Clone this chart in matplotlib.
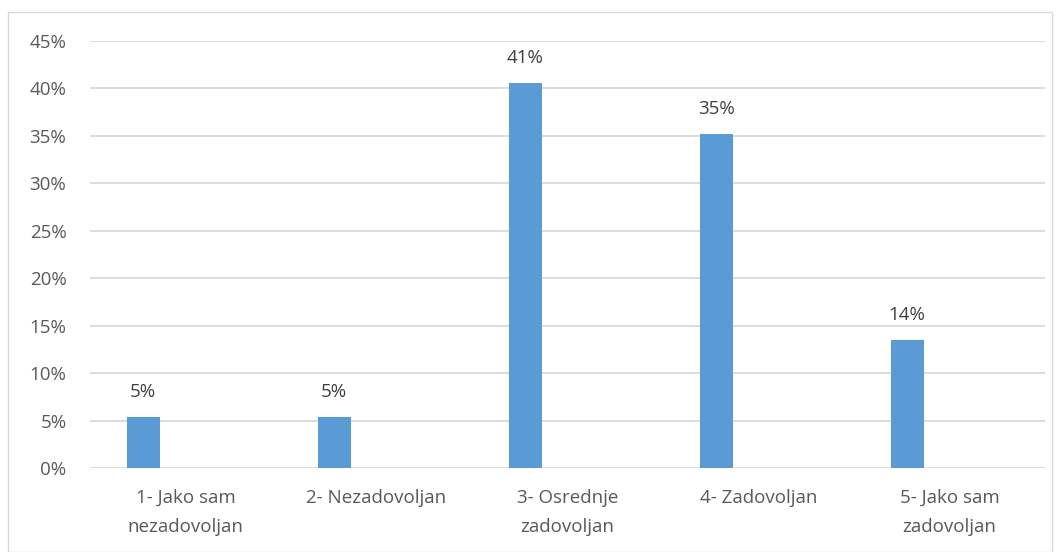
import matplotlib.pyplot as plt
from matplotlib.patches import Rectangle
import numpy as np

categories = ['1- Jako sam\nnezadovoljan', '2- Nezadovoljan', '3- Osrednje\nzadovoljan',
              '4- Zadovoljan', '5- Jako sam\nzadovoljan']
values = [0.054, 0.054, 0.406, 0.352, 0.135]
labels = ['5%', '5%', '41%', '35%', '14%']
yticks = [0, 0.05, 0.10, 0.15, 0.20, 0.25, 0.30, 0.35, 0.40, 0.45]

plt.rcParams['font.family'] = ['Open Sans', 'DejaVu Sans']
txt = '#595959'

fig = plt.figure(figsize=(10.6, 5.52), dpi=100)
ax = fig.add_axes([90 / 1060, 1 - 468 / 552, 955 / 1060, 427 / 552])

# chart border
fig.patches.append(Rectangle((8 / 1060, 0.5 / 552), 1044 / 1060, 540 / 552,
                             transform=fig.transFigure, fill=False,
                             edgecolor='#d9d9d9', linewidth=1))

x = np.arange(len(categories))
ax.bar(x - 0.222, values, width=0.173, color='#5b9bd5', zorder=3)

for xi, v, lab in zip(x, values, labels):
    ax.annotate(lab, (xi - 0.222, v), xytext=(0, 18), textcoords='offset points',
                ha='center', va='center', fontsize=13.5, color='#404040')

ax.set_xlim(-0.5, len(categories) - 0.5)
ax.set_ylim(0, 0.45)
ax.set_yticks(yticks)
ax.set_yticklabels([f'{int(round(t * 100))}%' for t in yticks], fontsize=13.5, color=txt)
ax.set_xticks(x)
ax.set_xticklabels(categories, fontsize=13.5, color=txt, linespacing=1.8)
ax.tick_params(axis='both', length=0)
ax.tick_params(axis='y', pad=17)
ax.tick_params(axis='x', pad=15)
ax.grid(axis='y', color='#d9d9d9', linewidth=1.3, zorder=0)
for s in ax.spines.values():
    s.set_visible(False)

fig.savefig('out.png', dpi=100)
